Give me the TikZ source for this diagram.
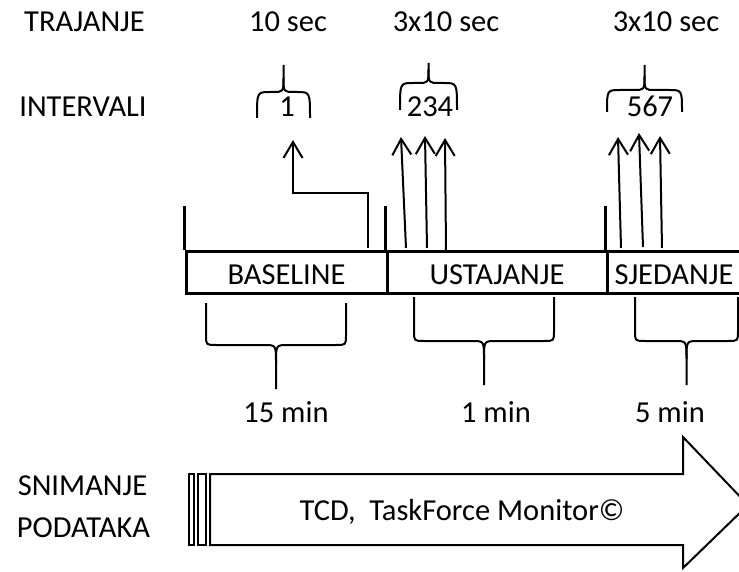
\documentclass[tikz,border=0pt]{standalone}
\usepackage{fontspec}
\setmainfont{Carlito}
\usetikzlibrary{arrows.meta}

% curly brace opening downwards: left x, right x, end y, middle y, tip y
\newcommand{\upbrace}[5]{%
	\draw[brc] (#1,#3) .. controls (#1,#4) .. (#1+13,#4) -- ({(#1+#2)/2-11},#4)
	.. controls ({(#1+#2)/2},#4) .. ({(#1+#2)/2},#4-14) -- ({(#1+#2)/2},#5);
	\draw[brc] (#2,#3) .. controls (#2,#4) .. (#2-13,#4) -- ({(#1+#2)/2+11},#4)
	.. controls ({(#1+#2)/2},#4) .. ({(#1+#2)/2},#4-14);
}
% curly brace opening upwards: left x, right x, end y, middle y, tip y
\newcommand{\downbrace}[5]{%
	\draw[brc] (#1,#3) -- (#1,#4-10) .. controls (#1,#4) .. (#1+10,#4) -- ({(#1+#2)/2-12},#4)
	.. controls ({(#1+#2)/2},#4) .. ({(#1+#2)/2},#4+18) -- ({(#1+#2)/2},#5);
	\draw[brc] (#2,#3) -- (#2,#4-10) .. controls (#2,#4) .. (#2-10,#4) -- ({(#1+#2)/2+12},#4)
	.. controls ({(#1+#2)/2},#4) .. ({(#1+#2)/2},#4+18);
}

\begin{document}
\begin{tikzpicture}[
	x=1pt, y=-1pt,
	every node/.style={font=\fontsize{30.5pt}{36pt}\selectfont, inner sep=0pt},
	lbl/.style={anchor=base},
	cell/.style={draw, line width=3pt, minimum height=41pt, text height=23pt, text depth=0pt},
	tick/.style={line width=3pt},
	arr/.style={line width=2pt, -{Straight Barb[length=16pt, width=19pt, line width=2pt]}},
	brc/.style={line width=2pt, line join=round},
	flow/.style={draw, line width=2pt, line join=miter}
	]
	\path[use as bounding box, fill=white] (0,0) rectangle (739,572);
	
	%--- row labels ---
	\node[lbl] (traj) at (84.5,32) {TRAJANJE};
	\node[lbl] (intv) at (83,117) {INTERVALI};
	\node[lbl] (snim) at (82.5,495) {SNIMANJE};
	\node[lbl] (pod) at (83.5,537) {PODATAKA};
	
	%--- durations and intervals ---
	\node[lbl] (d1) at (288,32) {10 sec};
	\node[lbl] (d2) at (446,32) {3x10 sec};
	\node[lbl] (d3) at (666,32) {3x10 sec};
	
	\node[lbl] (i1) at (287,117) {1};
	\node[lbl] (i2) at (430,117) {234};
	\node[lbl] (i3) at (650,117) {567};
	
	\upbrace{257}{310}{118}{92}{65}
	\upbrace{400}{457}{110}{83}{63}
	\upbrace{607}{682}{112}{90}{65}
	
	%--- protocol phases ---
	\node[cell, minimum width=201pt] (base) at (286.5,272.5) {BASELINE};
	\node[cell, minimum width=220pt] (ust) at (497,272.5) {USTAJANJE};
	\node[cell, minimum width=134pt] (sjed) at (674,272.5) {SJEDANJE};
	
	\draw[tick] (base.north west) -- ++(0,-44);
	\draw[tick] (ust.north west) -- ++(0,-44);
	\draw[tick] (sjed.north west) -- ++(0,-44);
	
	%--- interval arrows ---
	\coordinate (f0) at (368,248);
	\coordinate (t0) at (293,140);
	\draw[arr] (f0) -- ++(0,-55) -| (t0);
	\foreach \n/\xa/\xb/\ya/\yb in {1/406/401/248/137, 2/427/425/248/136, 3/446/445/251/138,
		4/621/618/248/137, 5/643/639/247/133, 6/662/660/248/136}
	{
		\coordinate (f\n) at (\xa,\ya);
		\coordinate (t\n) at (\xb,\yb);
		\draw[arr] (f\n) -- (t\n);
	}
	
	%--- phase lengths ---
	\downbrace{206}{346}{303}{345}{389}
	\downbrace{414}{554}{297}{341}{385}
	\downbrace{635}{738}{297}{341}{385}
	
	\node[lbl] (m1) at (286,422) {15 min};
	\node[lbl] (m2) at (496,422) {1 min};
	\node[lbl] (m3) at (670,422) {5 min};
	
	%--- recording arrow ---
	\draw[line width=1.5pt] (189,474) rectangle (194,545);
	\draw[line width=1.5pt] (198,474) rectangle (206,545);
	\draw[flow] (210,474) -- (683,474) -- (683,437) -- (748,505) -- (683,568)
	-- (683,545) -- (210,545) -- cycle;
	\node[lbl] (tcd) at (462,520) {TCD,\ \ TaskForce Monitor©};
	
\end{tikzpicture}
\end{document}
